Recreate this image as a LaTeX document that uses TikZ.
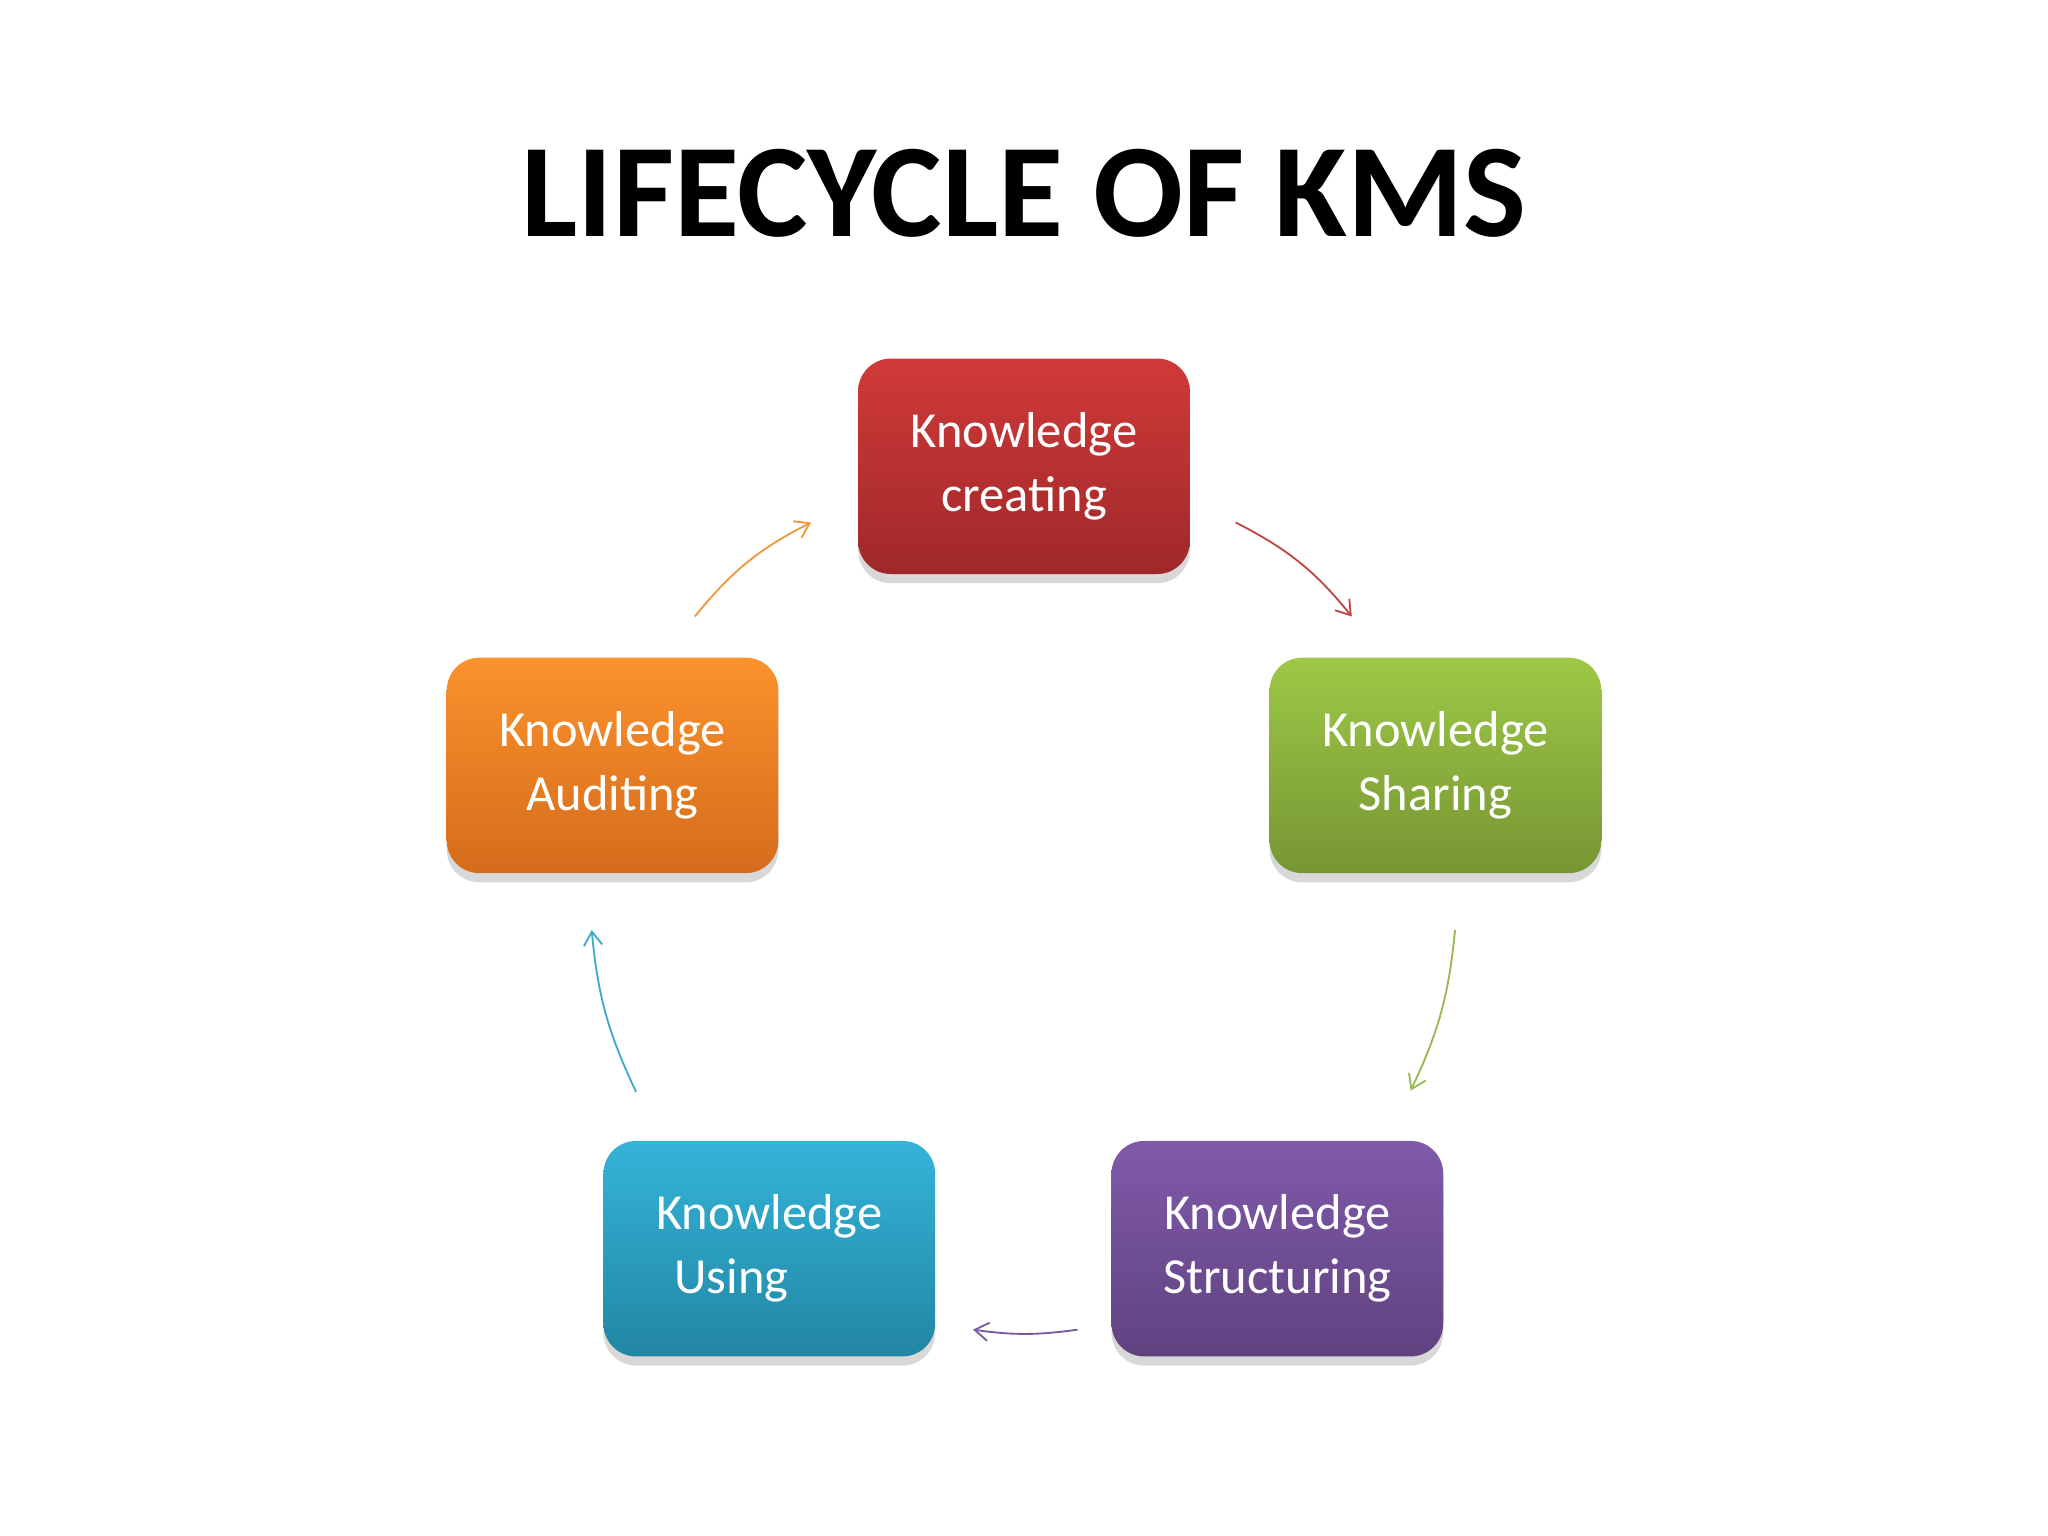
\documentclass[tikz,border=0pt]{standalone}
\usepackage{fontspec}
\setmainfont{Carlito}
\usetikzlibrary{shadows,arrows.meta}
\begin{document}
\begin{tikzpicture}[x=0.02cm,y=-0.02cm,
  kbox/.style={rounded corners=0.5cm,minimum width=5.08cm,minimum height=3.3cm,
    text=white,font=\fontsize{22}{28}\selectfont,align=center,
    drop shadow={shadow xshift=0pt,shadow yshift=-4pt,fill=black!30,opacity=0.5}},
  conn/.style={line width=0.8pt,-{Straight Barb[length=6pt,width=8pt]}}]
\useasboundingbox (0,0) rectangle (1568,1176);
\node[font=\bfseries\fontsize{58}{60}\selectfont] (t) at (784,148) {LIFECYCLE OF KMS};
\node[kbox,top color=red!75!black!70!red,bottom color=red!55!black,shading angle=0,
  top color={rgb,255:red,208;green,58;blue,56},bottom color={rgb,255:red,160;green,40;blue,42}] (c) at (784,357) {Knowledge\\creating};
\node[kbox,top color={rgb,255:red,158;green,200;blue,70},bottom color={rgb,255:red,118;green,150;blue,52}] (s) at (1099,586) {Knowledge\\Sharing};
\node[kbox,top color={rgb,255:red,128;green,90;blue,170},bottom color={rgb,255:red,96;green,66;blue,128}] (st) at (978,956) {Knowledge\\Structuring};
\node[kbox,top color={rgb,255:red,52;green,180;blue,216},bottom color={rgb,255:red,34;green,134;blue,164}] (u) at (589,956) {Knowledge\\Using\hspace*{1.5em}};
\node[kbox,top color={rgb,255:red,252;green,146;blue,44},bottom color={rgb,255:red,212;green,108;blue,28}] (a) at (469,586) {Knowledge\\Auditing};
\coordinate (r1) at (946,400); \coordinate (r2) at (1035,472);
\coordinate (g1) at (1114,712); \coordinate (g2) at (1080,835);
\coordinate (p1) at (825,1018); \coordinate (p2) at (745,1018);
\coordinate (b1) at (487,836); \coordinate (b2) at (453,712);
\coordinate (o1) at (532,472); \coordinate (o2) at (621,400);
\draw[conn,color={rgb,255:red,192;green,70;blue,70}] (r1) to[bend left=12] (r2);
\draw[conn,color={rgb,255:red,150;green,185;blue,80}] (g1) to[bend left=10] (g2);
\draw[conn,color={rgb,255:red,120;green,90;blue,160}] (p1) to[bend left=8] (p2);
\draw[conn,color={rgb,255:red,60;green,170;blue,200}] (b1) to[bend left=10] (b2);
\draw[conn,color={rgb,255:red,240;green,150;blue,60}] (o1) to[bend left=12] (o2);
\end{tikzpicture}
\end{document}
